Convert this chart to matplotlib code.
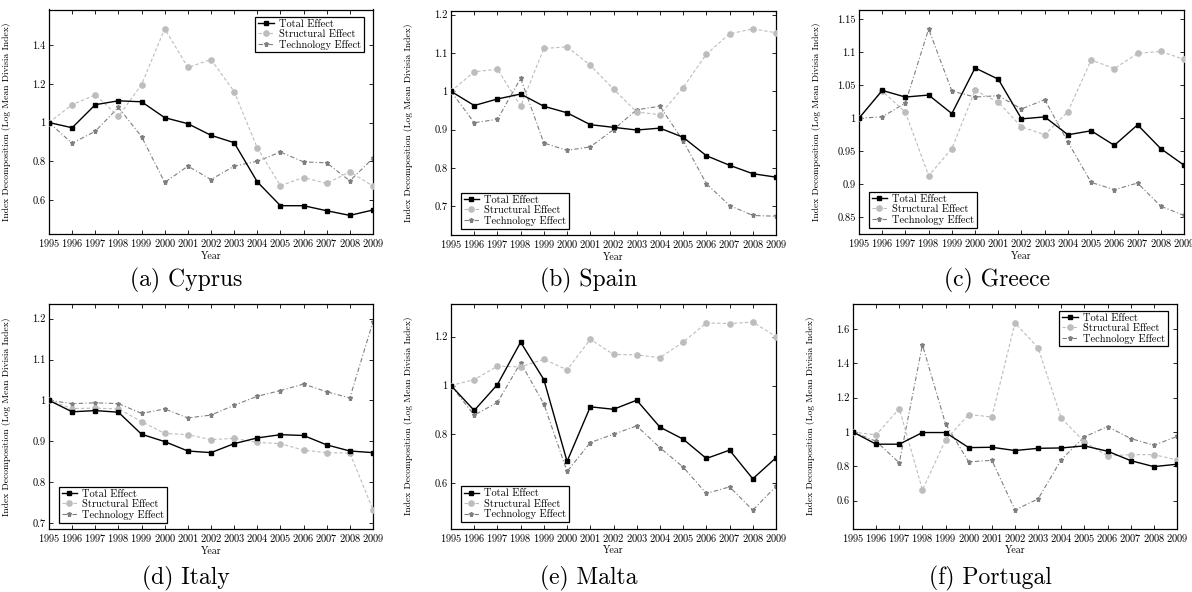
import numpy as np
import matplotlib.pyplot as plt
from matplotlib.ticker import FuncFormatter

plt.rcParams['font.family'] = ['cmr10', 'DejaVu Serif']
plt.rcParams['axes.formatter.use_mathtext'] = True

years = np.arange(1995, 2010)

# Cyprus
cy_total = [1.0, 0.973, 1.092, 1.112, 1.107, 1.025, 0.994, 0.934, 0.896, 0.694, 0.571, 0.571, 0.545, 0.521, 0.549]
cy_struct = [1.0, 1.092, 1.143, 1.032, 1.196, 1.484, 1.284, 1.325, 1.160, 0.869, 0.675, 0.716, 0.686, 0.746, 0.672]
cy_tech = [1.0, 0.893, 0.955, 1.078, 0.927, 0.691, 0.775, 0.706, 0.775, 0.800, 0.848, 0.797, 0.792, 0.699, 0.816]

# Spain
es_total = [1.0, 0.963, 0.980, 0.993, 0.961, 0.944, 0.913, 0.906, 0.899, 0.904, 0.880, 0.832, 0.807, 0.785, 0.776]
es_struct = [1.0, 1.051, 1.058, 0.961, 1.112, 1.116, 1.068, 1.006, 0.946, 0.939, 1.010, 1.097, 1.150, 1.163, 1.153]
es_tech = [1.0, 0.918, 0.927, 1.034, 0.865, 0.846, 0.855, 0.900, 0.952, 0.961, 0.871, 0.759, 0.702, 0.676, 0.674]

# Greece
gr_total = [1.0, 1.042, 1.032, 1.035, 1.007, 1.076, 1.059, 0.999, 1.002, 0.975, 0.981, 0.959, 0.990, 0.954, 0.929]
gr_struct = [1.0, 1.041, 1.009, 0.913, 0.954, 1.042, 1.024, 0.987, 0.975, 1.010, 1.088, 1.075, 1.098, 1.101, 1.089]
gr_tech = [1.0, 1.002, 1.023, 1.135, 1.041, 1.032, 1.034, 1.014, 1.028, 0.964, 0.903, 0.892, 0.902, 0.867, 0.853]

# Italy
it_total = [1.0, 0.972, 0.975, 0.971, 0.917, 0.899, 0.876, 0.872, 0.894, 0.908, 0.916, 0.914, 0.891, 0.876, 0.872]
it_struct = [1.0, 0.980, 0.981, 0.979, 0.948, 0.919, 0.916, 0.904, 0.907, 0.897, 0.894, 0.878, 0.872, 0.871, 0.732]
it_tech = [1.0, 0.992, 0.994, 0.992, 0.968, 0.979, 0.957, 0.964, 0.988, 1.010, 1.024, 1.040, 1.021, 1.006, 1.193]

# Malta
mt_total = [1.0, 0.898, 1.004, 1.177, 1.024, 0.690, 0.913, 0.903, 0.940, 0.830, 0.781, 0.702, 0.736, 0.619, 0.705]
mt_struct = [1.0, 1.024, 1.079, 1.076, 1.107, 1.064, 1.189, 1.127, 1.125, 1.114, 1.177, 1.256, 1.253, 1.259, 1.200]
mt_tech = [1.0, 0.879, 0.931, 1.093, 0.925, 0.649, 0.767, 0.801, 0.835, 0.746, 0.667, 0.559, 0.586, 0.491, 0.588]

# Portugal
pt_total = [1.0, 0.929, 0.929, 0.997, 0.997, 0.909, 0.911, 0.892, 0.905, 0.907, 0.919, 0.888, 0.833, 0.798, 0.812]
pt_struct = [1.0, 0.983, 1.137, 0.662, 0.954, 1.102, 1.088, 1.637, 1.491, 1.081, 0.942, 0.861, 0.868, 0.868, 0.837]
pt_tech = [1.0, 0.946, 0.820, 1.509, 1.047, 0.826, 0.835, 0.545, 0.610, 0.839, 0.972, 1.032, 0.962, 0.923, 0.974]

captions = ['(a) Cyprus', '(b) Spain', '(c) Greece', '(d) Italy', '(e) Malta', '(f) Portugal']
series = [(cy_total, cy_struct, cy_tech), (es_total, es_struct, es_tech), (gr_total, gr_struct, gr_tech),
          (it_total, it_struct, it_tech), (mt_total, mt_struct, mt_tech), (pt_total, pt_struct, pt_tech)]
yticks = [[0.6, 0.8, 1.0, 1.2, 1.4], [0.7, 0.8, 0.9, 1.0, 1.1, 1.2], [0.85, 0.9, 0.95, 1.0, 1.05, 1.1, 1.15],
          [0.7, 0.8, 0.9, 1.0, 1.1, 1.2], [0.6, 0.8, 1.0, 1.2], [0.6, 0.8, 1.0, 1.2, 1.4, 1.6]]
ylims = [(0.425, 1.583), (0.625, 1.211), (0.825, 1.164), (0.685, 1.236), (0.416, 1.335), (0.437, 1.75)]
legend_upper = [True, False, False, False, False, True]

# axes boxes in pixels: left, right, top, bottom
boxes = [(49, 373, 9.5, 234), (451, 776, 10.5, 235), (859, 1184, 9.7, 234),
         (49, 373, 304, 529), (451, 776, 303.5, 528.5), (853, 1177, 303.5, 528.5)]

W, H = 1192, 592
fig = plt.figure(figsize=(W / 100, H / 100), dpi=100)

fmt = FuncFormatter(lambda v, p: '{:g}'.format(round(v, 3)))

for i, (l, r, t, b) in enumerate(boxes):
    w, h = r - l, b - t
    ax = fig.add_axes([l / W, 1 - b / H, w / W, h / H])
    total, struct, tech = series[i]
    ax.plot(years, total, color='black', lw=1.0, marker='s', ms=2.2, label='Total Effect', zorder=4)
    ax.plot(years, struct, color='#bdbdbd', lw=0.8, ls=(0, (3, 2)), marker='o', ms=3.8,
            label='Structural Effect', zorder=3)
    ax.plot(years, tech, color='#7f7f7f', lw=0.8, ls=(0, (4, 2, 1, 2)), marker='*', ms=3.6,
            label='Technology Effect', zorder=2)
    ax.set_xlim(1995, 2009)
    ax.set_ylim(*ylims[i])
    ax.set_xticks(years)
    ax.set_yticks(yticks[i])
    ax.yaxis.set_major_formatter(fmt)
    ax.tick_params(direction='in', top=True, right=True, length=3, width=0.6,
                   labelsize=7.5, pad=2.5, colors='black')
    for s in ax.spines.values():
        s.set_linewidth(0.9)
    ax.set_xlabel('Year', fontsize=7.2)
    ax.xaxis.set_label_coords(0.5, -17 / h)
    ax.xaxis.label.set_va('top')
    ax.set_ylabel('Index Decomposition (Log Mean Divisia Index)', fontsize=6.9)
    ax.yaxis.set_label_coords(-38 / w, 0.5)

    if legend_upper[i]:
        loc, anchor = 'upper right', (1 - 9.5 / w, 1 - 7 / h)
    else:
        loc, anchor = 'lower left', (10 / w, 6.5 / h)
    leg = ax.legend(loc=loc, bbox_to_anchor=anchor, fontsize=7.5, frameon=True, fancybox=False,
                    edgecolor='black', framealpha=1, handlelength=1.5, numpoints=1,
                    labelspacing=0.08, borderpad=0.25, handletextpad=0.5, borderaxespad=0)
    leg.get_frame().set_linewidth(0.9)

    cx = (l + r) / 2 - 25
    cy = 280 if i < 3 else 578
    fig.text(cx / W, 1 - cy / H, captions[i], fontsize=17, ha='center', va='center')

fig.savefig('out.png', dpi=100)
